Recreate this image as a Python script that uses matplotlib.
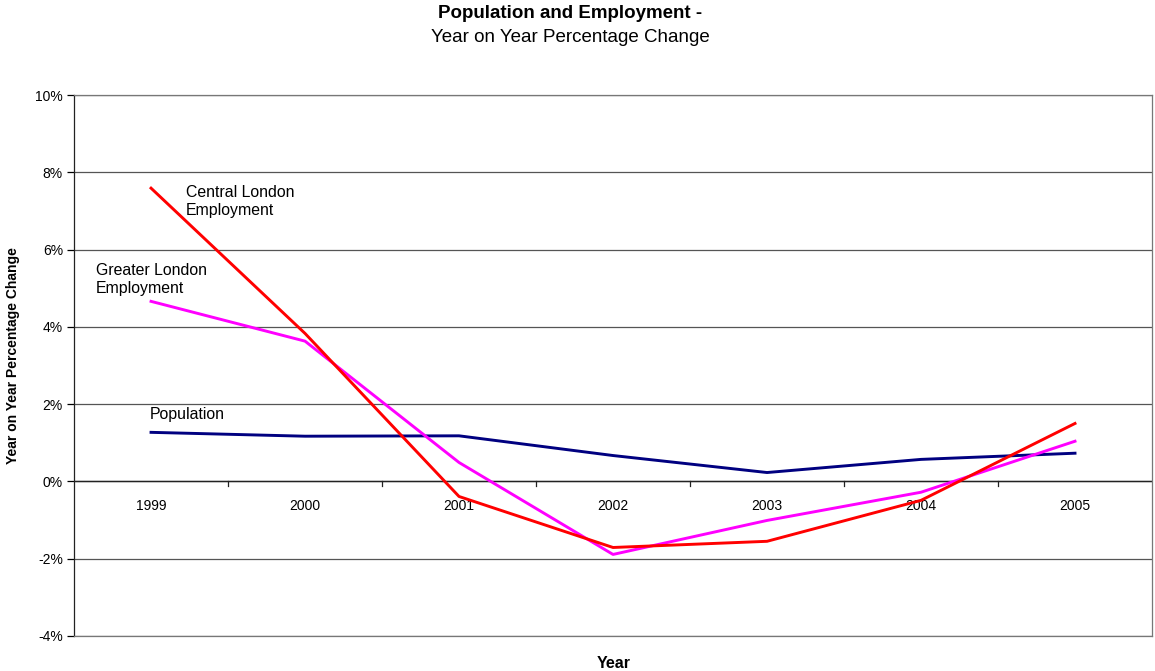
import matplotlib
matplotlib.use("Agg")
import matplotlib.pyplot as plt
from matplotlib.ticker import FuncFormatter

plt.rcParams['font.family'] = ['Liberation Sans', 'DejaVu Sans']

years = ["1999", "2000", "2001", "2002", "2003", "2004", "2005"]
central_london = [7.59, 3.83, -0.39, -1.71, -1.55, -0.49, 1.50]
greater_london = [4.66, 3.63, 0.49, -1.89, -1.01, -0.28, 1.04]
population = [1.27, 1.17, 1.18, 0.67, 0.23, 0.57, 0.73]

fig = plt.figure(figsize=(11.55, 6.71), dpi=100)
ax = fig.add_axes([0.0641, 0.0522, 0.9333, 0.8062])

x = range(len(years))
ax.plot(x, population, color="#000080", lw=2.1, zorder=3)
ax.plot(x, greater_london, color="#FF00FF", lw=2.1, zorder=4)
ax.plot(x, central_london, color="#FF0000", lw=2.1, zorder=5)

ax.set_xlim(-0.5, len(years) - 0.5)
ax.set_ylim(-4, 10)
ax.set_yticks(range(-4, 11, 2))
ax.yaxis.set_major_formatter(FuncFormatter(lambda v, p: f"{v:.0f}%"))
ax.yaxis.grid(True, color="#555555", lw=0.9)
ax.set_axisbelow(True)
ax.tick_params(axis="y", length=5, width=0.9, labelsize=10, pad=3)

# category axis sits on the 0% line, ticks between categories
ax.set_xticks([])
ax.axhline(0, color="#222222", lw=1.0, zorder=2)
for b in [i + 0.5 for i in range(len(years) - 1)]:
    ax.plot([b, b], [0, -0.13], color="#222222", lw=0.9, zorder=2, clip_on=False)
for i, yr in enumerate(years):
    ax.text(i, -0.45, yr, ha="center", va="top", fontsize=10)

for side in ["top", "right", "bottom"]:
    ax.spines[side].set_color("#777777")
    ax.spines[side].set_linewidth(0.9)
ax.spines["left"].set_color("#222222")
ax.spines["left"].set_linewidth(0.9)

ax.text(0.227, 7.68, "Central London\nEmployment", fontsize=11.4, va="top",
        ha="left", linespacing=1.25)
ax.text(-0.357, 5.66, "Greater London\nEmployment", fontsize=11.4, va="top",
        ha="left", linespacing=1.25)
ax.text(-0.008, 1.92, "Population", fontsize=11.4, va="top", ha="left")

fig.text(0.0115, 1 - 356 / 671, "Year on Year Percentage Change", rotation=90,
         ha="center", va="center", fontsize=10, fontweight="bold")
fig.text(0.5316, 1 - 663 / 671, "Year", ha="center", va="center",
         fontsize=11.5, fontweight="bold")
fig.text(0.4935, 1 - 13 / 671, "Population and Employment -", ha="center",
         va="center", fontsize=13.5, fontweight="bold")
fig.text(0.4935, 1 - 37 / 671, "Year on Year Percentage Change", ha="center",
         va="center", fontsize=13.5)

fig.savefig("out.png", dpi=100)
